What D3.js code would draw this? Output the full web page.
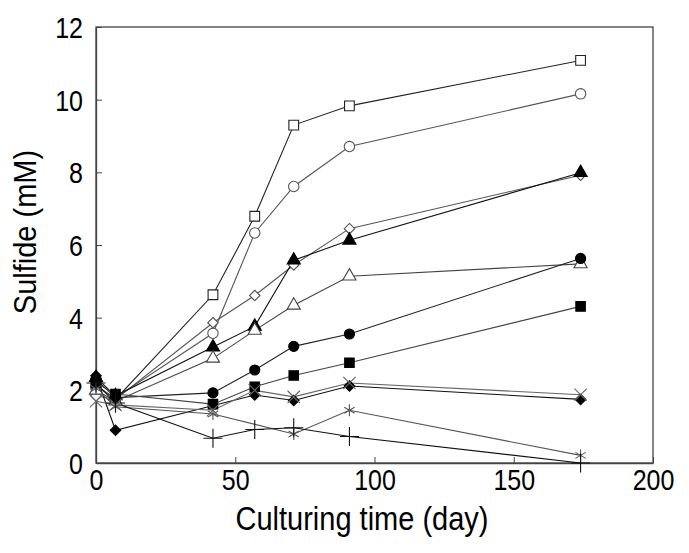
<!DOCTYPE html>
<html><head><meta charset="utf-8">
<script src="https://cdn.jsdelivr.net/npm/d3@7"></script>
<style>body{margin:0;background:#fff}svg{display:block}text{font-family:"Liberation Sans",Arial,sans-serif}</style>
</head><body><svg id="c" width="689" height="553"></svg>
<script>
const days = [0, 7, 42, 57, 71, 91, 174];
const xTicks = [0, 50, 100, 150, 200];
const yTicks = [0, 2, 4, 6, 8, 10, 12];
const openSquare   = [2.15, 1.75, 4.63, 6.79, 9.30, 9.83, 11.08];
const openCircle   = [2.10, 1.80, 3.57, 6.33, 7.61, 8.71, 10.16];
const openDiamond  = [1.85, 1.75, 3.86, 4.61, 5.45, 6.45, 7.92];
const fillTriangle = [2.35, 1.85, 3.19, 3.76, 5.58, 6.13, 7.99];
const openTriangle = [2.00, 1.70, 2.88, 3.65, 4.34, 5.14, 5.48];
const fillCircle   = [2.30, 1.80, 1.93, 2.56, 3.21, 3.55, 5.63];
const fillSquare   = [2.20, 1.90, 1.62, 2.10, 2.41, 2.76, 4.31];
const fillDiamond  = [2.40, 0.90, null, 1.87, 1.72, 2.12, 1.75];
const xCross       = [1.70, 1.60, 1.45, 2.00, 1.82, 2.20, 1.88];
const asterisk     = [2.05, 1.55, 1.35, null, 0.80, 1.45, 0.21];
const plusSeries   = [2.20, 1.65, 0.68, 0.92, 0.97, 0.73, 0.00];

const diamondSym = {draw(ctx, size) {
  const r = Math.sqrt(size) * Math.SQRT2 / 2;
  ctx.moveTo(0, -r); ctx.lineTo(r, 0); ctx.lineTo(0, r); ctx.lineTo(-r, 0); ctx.closePath();
}};

const series = [
  {v: openSquare,   sym: d3.symbolSquare,   size: 95, fill: "#fff", stroke: "#222", line: "#222"},
  {v: openCircle,   sym: d3.symbolCircle,   size: 85, fill: "#fff", stroke: "#555", line: "#555"},
  {v: openDiamond,  sym: diamondSym,        size: 55, fill: "#fff", stroke: "#555", line: "#555"},
  {v: fillTriangle, sym: d3.symbolTriangle, size: 75, fill: "#000", stroke: "#000", line: "#111"},
  {v: openTriangle, sym: d3.symbolTriangle, size: 75, fill: "#fff", stroke: "#444", line: "#444"},
  {v: fillCircle,   sym: d3.symbolCircle,   size: 80, fill: "#000", stroke: "#000", line: "#222"},
  {v: fillSquare,   sym: d3.symbolSquare,   size: 90, fill: "#000", stroke: "#000", line: "#444"},
  {v: fillDiamond,  sym: diamondSym,        size: 55, fill: "#000", stroke: "#000", line: "#111"},
  {v: xCross,       sym: d3.symbolX,        size: 100, fill: "none", stroke: "#666", line: "#666"},
  {v: asterisk,     sym: d3.symbolAsterisk, size: 100, fill: "none", stroke: "#555", line: "#555"},
  {v: plusSeries,   sym: d3.symbolPlus,     size: 120, fill: "none", stroke: "#111", line: "#111"}
];

const svg = d3.select("#c");
const m = {l: 96, r: 653, t: 27, b: 463};
const x = d3.scaleLinear().domain([0, 200]).range([m.l, m.r]);
const y = d3.scaleLinear().domain([0, 12]).range([m.b, m.t]);
const SY = 1.16;

svg.append("rect").attr("x", m.l).attr("y", m.t).attr("width", m.r - m.l).attr("height", m.b - m.t)
  .attr("fill", "none").attr("stroke", "#444").attr("stroke-width", 1.3);

const xa = svg.append("g").attr("transform", `translate(0,${m.b})`)
  .call(d3.axisBottom(x).tickValues(xTicks).tickSizeInner(-6).tickSizeOuter(0));
const ya = svg.append("g").attr("transform", `translate(${m.l},0)`)
  .call(d3.axisLeft(y).tickValues(yTicks).tickSizeInner(-6).tickSizeOuter(0).tickPadding(13));
[xa, ya].forEach(a => {
  a.select(".domain").attr("stroke", "#444").attr("stroke-width", 1.3);
  a.selectAll(".tick line").attr("stroke", "#444");
  a.selectAll(".tick text").attr("font-size", 25).attr("fill", "#000");
});
xa.selectAll(".tick text").attr("y", 0).attr("dy", null)
  .attr("transform", `translate(0,27) scale(1,${SY})`);
ya.selectAll(".tick text").attr("dy", "0.36em").attr("transform", `scale(1,${SY})`);

const line = d3.line().defined(d => d[1] != null).x(d => x(d[0])).y(d => y(d[1]));
series.forEach(s => {
  const pts = days.map((d, i) => [d, s.v[i]]).filter(p => p[1] != null);
  svg.append("path").datum(pts).attr("d", line).attr("fill", "none")
    .attr("stroke", s.line).attr("stroke-width", 1.1);
});
series.forEach(s => {
  const pts = days.map((d, i) => [d, s.v[i]]).filter(p => p[1] != null);
  svg.append("g").selectAll("path").data(pts).join("path")
    .attr("transform", p => `translate(${x(p[0])},${y(p[1])})`)
    .attr("d", d3.symbol(s.sym, s.size))
    .attr("fill", s.fill).attr("stroke", s.stroke).attr("stroke-width", 1.1);
});

svg.append("text").attr("transform", `translate(362,530) scale(1,${SY})`).attr("text-anchor", "middle")
  .attr("font-size", 29).text("Culturing time (day)");
svg.append("text").attr("transform", `translate(36,232) rotate(-90) scale(1,1.05)`)
  .attr("text-anchor", "middle").attr("font-size", 29).text("Sulfide (mM)");
</script></body></html>
